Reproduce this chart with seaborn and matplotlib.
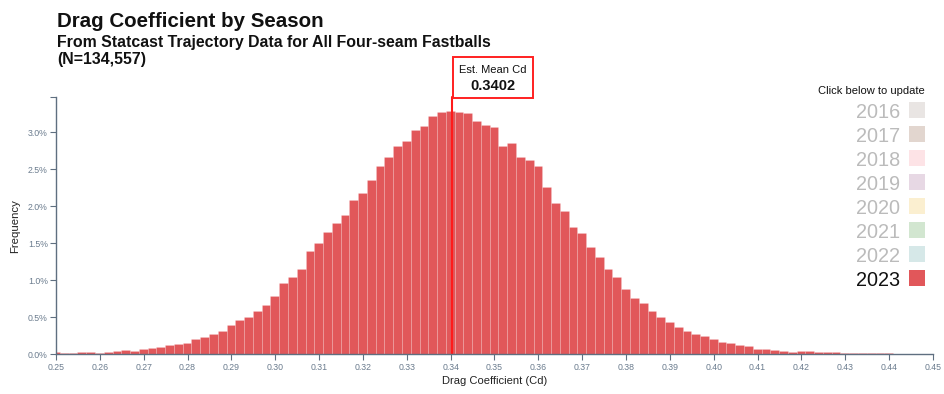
import numpy as np
import pandas as pd
import matplotlib
matplotlib.use("Agg")
import matplotlib.pyplot as plt
from matplotlib.patches import Rectangle
from matplotlib.ticker import PercentFormatter, FormatStrFormatter
import seaborn as sns

sns.set_style("white")
plt.rcParams['font.family'] = ['Liberation Sans', 'DejaVu Sans']

#
#  Histogram of drag coefficient, 2023 season (frequency in %)
#

bin_start = 0.2489
bin_width = 0.002
freq_pct = [
    0.027, 0.018, 0.022, 0.027, 0.030, 0.022, 0.030, 0.040, 0.060, 0.050,
    0.070, 0.080, 0.100, 0.120, 0.135, 0.150, 0.200, 0.230, 0.270, 0.320,
    0.400, 0.460, 0.500, 0.585, 0.670, 0.790, 0.960, 1.040, 1.150, 1.390,
    1.500, 1.650, 1.780, 1.880, 2.090, 2.180, 2.350, 2.550, 2.660, 2.820,
    2.880, 3.030, 3.090, 3.220, 3.280, 3.290, 3.270, 3.260, 3.150, 3.100,
    3.070, 2.810, 2.850, 2.670, 2.630, 2.550, 2.260, 2.040, 1.930, 1.720,
    1.640, 1.450, 1.320, 1.150, 1.045, 0.880, 0.760, 0.690, 0.580, 0.510,
    0.430, 0.370, 0.320, 0.280, 0.250, 0.210, 0.160, 0.150, 0.130, 0.110,
    0.077, 0.068, 0.059, 0.050, 0.027, 0.050, 0.040, 0.030, 0.030, 0.027,
    0.022, 0.015, 0.013, 0.012, 0.014, 0.012, 0.010, 0.010, 0.008, 0.006,
    0.005,
]
mean_cd = 0.3402

seasons = ['2016', '2017', '2018', '2019', '2020', '2021', '2022', '2023']
season_colors = ['#e9e5e3', '#e2d6cf', '#fde3e6', '#e7d8e4',
                 '#fbefd0', '#d2e6d0', '#d6e8e8', '#e1575a']
selected = '2023'

x_ticks = [round(0.25 + 0.01 * i, 2) for i in range(21)]
y_ticks = [0.0, 0.5, 1.0, 1.5, 2.0, 2.5, 3.0]
y_top = 3.477

n_bins = len(freq_pct)
df = pd.DataFrame({
    'cd': bin_start + bin_width * (np.arange(n_bins) + 0.5),
    'pct': freq_pct,
})

#
#  Figure
#

W, H = 945, 394
fig = plt.figure(figsize=(W / 100, H / 100), dpi=100)
ax = fig.add_axes([56 / W, 1 - 354.3 / H, (933 - 56) / W, (354.3 - 97) / H])

bar_color = season_colors[seasons.index(selected)]
sns.histplot(data=df, x='cd', weights='pct', bins=n_bins,
             binrange=(bin_start, bin_start + bin_width * n_bins), ax=ax,
             color=bar_color, alpha=1.0, edgecolor=(1, 1, 1, 0.2),
             linewidth=0.5)

ax.set_xlim(0.25, 0.45)
ax.set_ylim(0, y_top)
ax.set_xticks(x_ticks)
ax.set_yticks(y_ticks)
ax.set_yticks([y_top], minor=True)
ax.xaxis.set_major_formatter(FormatStrFormatter('%.2f'))
ax.yaxis.set_major_formatter(PercentFormatter(decimals=1))

axis_col = '#5f6f80'
tick_col = '#6b7c8e'
for side in ['top', 'right']:
    ax.spines[side].set_visible(False)
for side in ['left', 'bottom']:
    ax.spines[side].set_color(axis_col)
    ax.spines[side].set_linewidth(1.0)
ax.tick_params(axis='both', which='both', direction='out', length=4, width=0.8,
               color=axis_col, labelcolor=tick_col, labelsize=6.3, pad=2)
ax.tick_params(axis='x', bottom=True)
ax.tick_params(axis='y', which='both', left=True)

ax.set_xlabel('Drag Coefficient (Cd)', fontsize=8, color='#222222', va='center')
ax.xaxis.set_label_coords(0.5, -0.104)
ax.set_ylabel('Frequency', fontsize=8.2, color='#222222', va='center')
ax.yaxis.set_label_coords(-0.047, 0.5)

# mean line
ax.axvline(mean_cd, color='#ff1a1a', linewidth=1.5, clip_on=False)

#
#  Titles
#

fig.text(57 / W, 1 - 27 / H, 'Drag Coefficient by Season', fontsize=14.8,
         fontweight='bold', color='#111111', va='baseline')
fig.text(57 / W, 1 - 46.5 / H, 'From Statcast Trajectory Data for All Four-seam Fastballs',
         fontsize=11.4, fontweight='bold', color='#111111', va='baseline')
fig.text(57 / W, 1 - 64 / H, '(N=134,557)', fontsize=11.4, fontweight='bold',
         color='#111111', va='baseline')

#
#  Mean annotation box
#

bx0, bx1, by0, by1 = 452.7, 532.7, 57.3, 98.3
fig.add_artist(Rectangle((bx0 / W, 1 - by1 / H), (bx1 - bx0) / W, (by1 - by0) / H,
                         transform=fig.transFigure, facecolor='white',
                         edgecolor='#ff2020', linewidth=1.4))
fig.text((bx0 + bx1) / 2 / W, 1 - 73.3 / H, 'Est. Mean Cd', fontsize=8.0,
         ha='center', va='baseline', color='#111111')
fig.text((bx0 + bx1) / 2 / W, 1 - 89.5 / H, f'{mean_cd:.4f}', fontsize=10.5,
         fontweight='bold', ha='center', va='baseline', color='#111111')

#
#  Season selector legend
#

fig.text(924.5 / W, 1 - 93.5 / H, 'Click below to update', fontsize=8.0,
         ha='right', va='baseline', color='#111111')
for i, (season, col) in enumerate(zip(seasons, season_colors)):
    y_base = 118.3 + 24 * i
    fig.text(900 / W, 1 - y_base / H, season, fontsize=14.3, ha='right',
             va='baseline', color='#111111' if season == selected else '#bbbbbb')
    sq_top = 102 + 24 * i
    fig.add_artist(Rectangle((909 / W, 1 - (sq_top + 15.7) / H), 15.7 / W, 15.7 / H,
                             transform=fig.transFigure, facecolor=col,
                             edgecolor='none'))

fig.savefig('out.png', dpi=100)
